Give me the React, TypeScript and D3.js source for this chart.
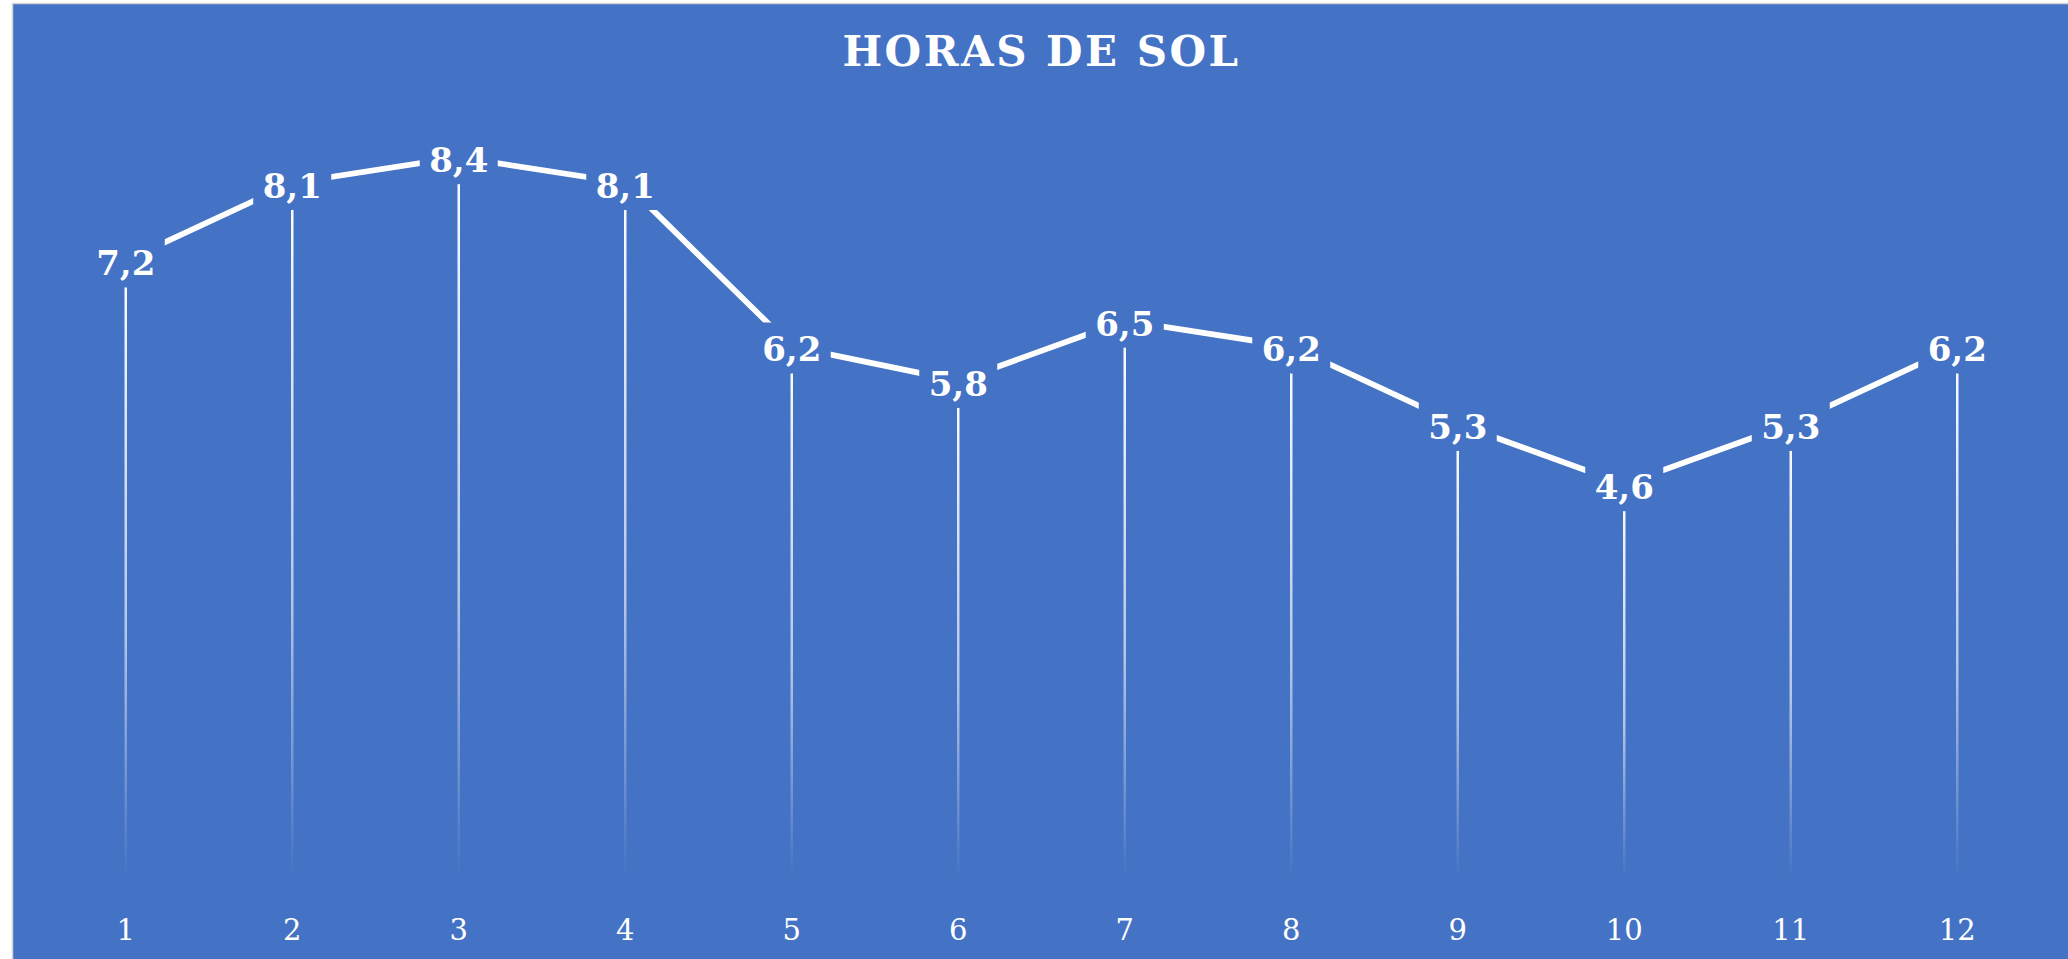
import React from "react";
import * as d3 from "d3";

const months = ["1", "2", "3", "4", "5", "6", "7", "8", "9", "10", "11", "12"];
const hours = [7.2, 8.1, 8.4, 8.1, 6.2, 5.8, 6.5, 6.2, 5.3, 4.6, 5.3, 6.2];
const title = "HORAS DE SOL";
const yDomain = [0, 9];

const W = 2068;
const H = 959;
const BLUE = "#4472C4";
const FONT = "'DejaVu Serif', Georgia, serif";

export default function App() {
  const x = d3.scaleBand<string>().domain(months).range([42.5, 2040.5]).padding(0);
  const y = d3.scaleLinear().domain(yDomain).range([880, 105.55]);
  const cx = (m: string) => (x(m) as number) + x.bandwidth() / 2;
  const [x0, x1] = x.range();

  const data = months.map((m, i) => ({ m, v: hours[i] }));
  const line = d3
    .line<{ m: string; v: number }>()
    .x((d) => cx(d.m))
    .y((d) => y(d.v));

  const fmt = (v: number) => d3.format(".1f")(v).replace(".", ",");
  const boxHalfW = 39;
  const boxTop = 24;
  const boxBottom = 27;

  return (
    <svg
      width={W}
      height={H}
      style={{ position: "absolute", left: 0, top: 0, display: "block" }}
    >
      <defs>
        <linearGradient id="dropGrad" x1="0" y1="0" x2="0" y2="1">
          <stop offset="0" stopColor="#ffffff" stopOpacity={1} />
          <stop offset="0.6" stopColor="#ffffff" stopOpacity={0.6} />
          <stop offset="1" stopColor="#ffffff" stopOpacity={0} />
        </linearGradient>
        <mask id="labelMask" maskUnits="userSpaceOnUse" x={0} y={0} width={W} height={H}>
          <rect x={0} y={0} width={W} height={H} fill="white" />
          {data.map((d) => (
            <rect
              key={d.m}
              x={cx(d.m) - boxHalfW}
              y={y(d.v) - boxTop}
              width={boxHalfW * 2}
              height={boxTop + boxBottom}
              fill="black"
            />
          ))}
        </mask>
      </defs>
      <rect x={0} y={0} width={W} height={H} fill="#ffffff" />
      <rect
        x={12.5}
        y={3.5}
        width={W + 10}
        height={H + 10}
        fill={BLUE}
        stroke="#d4d4d4"
        strokeWidth={1.5}
      />
      <text
        x={(x0 + x1) / 2}
        y={66}
        textAnchor="middle"
        fill="#ffffff"
        fontFamily={FONT}
        fontWeight="bold"
        fontSize={42}
        letterSpacing={2.5}
      >
        {title}
      </text>
      <g mask="url(#labelMask)">
        {data.map((d) => (
          <rect
            key={d.m}
            x={cx(d.m) - 1.25}
            y={y(d.v)}
            width={2.5}
            height={y(0) - y(d.v)}
            fill="url(#dropGrad)"
          />
        ))}
        <path d={line(data) || ""} fill="none" stroke="#ffffff" strokeWidth={5.8} />
      </g>
      {data.map((d) => (
        <text
          key={d.m}
          x={cx(d.m)}
          y={y(d.v) + 15}
          textAnchor="middle"
          fill="#ffffff"
          fontFamily={FONT}
          fontWeight="bold"
          fontSize={34}
        >
          {fmt(d.v)}
        </text>
      ))}
      {months.map((m) => (
        <text
          key={m}
          x={cx(m)}
          y={940}
          textAnchor="middle"
          fill="#ffffff"
          fontFamily={FONT}
          fontSize={29}
        >
          {m}
        </text>
      ))}
    </svg>
  );
}
